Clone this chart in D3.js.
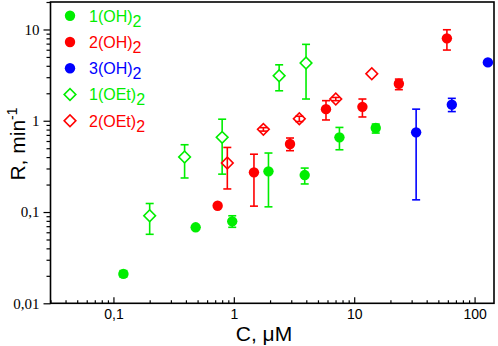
<!DOCTYPE html>
<html>
<head>
<meta charset="utf-8">
<script src="https://cdn.jsdelivr.net/npm/d3@7"></script>
<style>
body{margin:0;background:#fff;}
svg{display:block;font-family:Arial,"Liberation Sans",sans-serif;}
</style>
</head>
<body>
<svg id="chart" width="498" height="346"></svg>
<script>
/// data: C in uM, R in 1/min, error bar ends
var names = ["1(OH)", "2(OH)", "3(OH)", "1(OEt)", "2(OEt)"];

var c1OH  = [0.121, 0.482, 0.97, 1.94, 3.88, 7.54, 15.1];
var r1OH  = [0.021, 0.068, 0.079, 0.279, 0.254, 0.658, 0.832];
var hi1OH = [0.0228, 0.068, 0.091, 0.443, 0.303, 0.845, 0.92];
var lo1OH = [0.0194, 0.068, 0.068, 0.114, 0.203, 0.481, 0.733];

var c2OH  = [0.734, 1.47, 2.93, 5.83, 11.7, 23.5, 58.9];
var r2OH  = [0.117, 0.272, 0.556, 1.34, 1.42, 2.54, 7.99];
var hi2OH = [0.117, 0.43, 0.647, 1.66, 1.73, 2.86, 9.93];
var lo2OH = [0.117, 0.116, 0.47, 1.02, 1.10, 2.19, 5.95];

var c3OH  = [32.7, 64.7, 129];
var r3OH  = [0.746, 1.50, 4.36];
var hi3OH = [1.34, 1.76, 4.36];
var lo3OH = [0.136, 1.26, 4.36];

var c1OEt  = [0.2, 0.39, 0.80, 2.38, 3.98];
var r1OEt  = [0.091, 0.40, 0.658, 3.11, 4.29];
var hi1OEt = [0.124, 0.546, 1.04, 4.1, 6.87];
var lo1OEt = [0.057, 0.236, 0.26, 2.13, 1.73];

var c2OEt  = [0.883, 1.76, 3.5, 7.03, 14.0];
var r2OEt  = [0.344, 0.805, 1.05, 1.73, 3.27];
var hi2OEt = [0.51, 0.84, 1.12, 1.80, 3.27];
var lo2OEt = [0.179, 0.77, 0.98, 1.66, 3.27];

var xTicks = [0.1, 1, 10, 100];
var yTicks = [0.01, 0.1, 1, 10];

var green = "#00ee00", red = "#ff0000", blue = "#0000ff";

var series = [
  {name: names[0], c: c1OH,  r: r1OH,  hi: hi1OH,  lo: lo1OH,  color: green, shape: "circle"},
  {name: names[1], c: c2OH,  r: r2OH,  hi: hi2OH,  lo: lo2OH,  color: red,   shape: "circle"},
  {name: names[2], c: c3OH,  r: r3OH,  hi: hi3OH,  lo: lo3OH,  color: blue,  shape: "circle"},
  {name: names[3], c: c1OEt, r: r1OEt, hi: hi1OEt, lo: lo1OEt, color: green, shape: "diamond", barsOnTop: false},
  {name: names[4], c: c2OEt, r: r2OEt, hi: hi2OEt, lo: lo2OEt, color: red,   shape: "diamond", barsOnTop: true}
];

var svg = d3.select("#chart");
var plotL = 50.5, plotR = 494, plotT = 2, plotB = 303.3;

var x = d3.scaleLog().domain([0.03, 145]).range([plotL, plotR]);
var y = d3.scaleLog().domain([0.01, 20]).range([plotB, plotT]);

function comma(v){ return String(v).replace(".", ","); }

/// minor tick values for a log scale
function minors(scale){
  var d = scale.domain(), out = [];
  for (var e = Math.floor(Math.log10(d[0])); e <= Math.ceil(Math.log10(d[1])); e++){
    for (var k = 2; k <= 9; k++){
      var v = k * Math.pow(10, e);
      if (v >= d[0] * 0.999 && v <= d[1]) out.push(v);
    }
  }
  return out;
}

/// x axis: ticks point inward
svg.append("g")
    .attr("transform", "translate(0," + plotB + ")")
    .call(d3.axisBottom(x).tickValues(minors(x)).tickSize(-3).tickSizeOuter(0).tickFormat(""))
    .call(function(g){ g.select(".domain").remove(); });

svg.append("g")
    .attr("class", "xmajor")
    .attr("transform", "translate(0," + plotB + ")")
    .call(d3.axisBottom(x).tickValues(xTicks).tickSize(-6).tickSizeOuter(0).tickPadding(6).tickFormat(comma))
    .call(function(g){ g.select(".domain").remove(); });

/// y axis: ticks point outward
svg.append("g")
    .attr("transform", "translate(" + plotL + ",0)")
    .call(d3.axisLeft(y).tickValues(minors(y)).tickSize(4).tickSizeOuter(0).tickFormat(""))
    .call(function(g){ g.select(".domain").remove(); });

svg.append("g")
    .attr("class", "ymajor")
    .attr("transform", "translate(" + plotL + ",0)")
    .call(d3.axisLeft(y).tickValues(yTicks).tickSize(7).tickSizeOuter(0).tickPadding(4).tickFormat(comma))
    .call(function(g){ g.select(".domain").remove(); });

svg.selectAll(".tick line").attr("stroke", "#000").attr("stroke-width", 1.2);
svg.selectAll(".xmajor text").attr("font-size", 14).attr("fill", "#000")
    .attr("font-family", "Arial, 'Liberation Sans', sans-serif");
svg.selectAll(".ymajor text").attr("font-size", 15).attr("fill", "#000")
    .attr("font-family", "'Liberation Serif', 'Times New Roman', serif");

/// frame
svg.append("rect")
    .attr("x", plotL).attr("y", plotT)
    .attr("width", plotR - plotL).attr("height", plotB - plotT)
    .attr("fill", "none").attr("stroke", "#000").attr("stroke-width", 1.6);

/// axis titles
svg.append("text")
    .attr("x", 264).attr("y", 341)
    .attr("text-anchor", "middle").attr("font-size", 21)
    .text("C, \u03bcM");

var yt = svg.append("text")
    .attr("transform", "translate(25,144) rotate(-90)")
    .attr("text-anchor", "middle").attr("font-size", 21);
yt.append("tspan").text("R, min");
yt.append("tspan").attr("dy", -8).attr("font-size", 14).text("-1");

var diamond = d3.symbol().type(d3.symbolSquare).size(68);

function drawBars(g, s){
  var pts = s.c.map(function(c, i){ return {c: c, hi: s.hi[i], lo: s.lo[i]}; })
      .filter(function(d){ return d.hi !== d.lo; });
  var b = g.append("g").attr("stroke", s.color).attr("stroke-width", 1.6);
  b.selectAll("line.v").data(pts).join("line").attr("class", "v")
      .attr("x1", function(d){ return x(d.c); }).attr("x2", function(d){ return x(d.c); })
      .attr("y1", function(d){ return y(d.hi); }).attr("y2", function(d){ return y(d.lo); });
  ["hi", "lo"].forEach(function(k){
    b.selectAll("line." + k).data(pts).join("line").attr("class", k)
        .attr("x1", function(d){ return x(d.c) - 4; }).attr("x2", function(d){ return x(d.c) + 4; })
        .attr("y1", function(d){ return y(d[k]); }).attr("y2", function(d){ return y(d[k]); });
  });
}

function drawMarks(g, s){
  var pts = s.c.map(function(c, i){ return {c: c, r: s.r[i]}; });
  if (s.shape === "circle"){
    g.selectAll("circle").data(pts).join("circle")
        .attr("cx", function(d){ return x(d.c); }).attr("cy", function(d){ return y(d.r); })
        .attr("r", 5.2).attr("fill", s.color);
  } else {
    g.selectAll("path").data(pts).join("path")
        .attr("d", diamond)
        .attr("transform", function(d){ return "translate(" + x(d.c) + "," + y(d.r) + ") rotate(45)"; })
        .attr("fill", "#fff").attr("stroke", s.color).attr("stroke-width", 1.6);
  }
}

series.forEach(function(s){
  var g = svg.append("g");
  if (s.barsOnTop){ drawMarks(g, s); drawBars(g, s); }
  else { drawBars(g, s); drawMarks(g, s); }
});

/// legend
var leg = svg.append("g");
series.forEach(function(s, i){
  var cy = 15.7 + i * 26.25;
  var item = leg.append("g");
  if (s.shape === "circle"){
    item.append("circle").attr("cx", 70).attr("cy", cy).attr("r", 5.2).attr("fill", s.color);
  } else {
    item.append("path").attr("d", diamond)
        .attr("transform", "translate(70," + cy + ") rotate(45)")
        .attr("fill", "#fff").attr("stroke", s.color).attr("stroke-width", 1.6);
  }
  var t = item.append("text").attr("x", 89).attr("y", cy + 6)
      .attr("font-size", 16).attr("fill", s.color);
  t.append("tspan").text(s.name);
  t.append("tspan").attr("dy", 5).text("2");
});
</script>
</body>
</html>
